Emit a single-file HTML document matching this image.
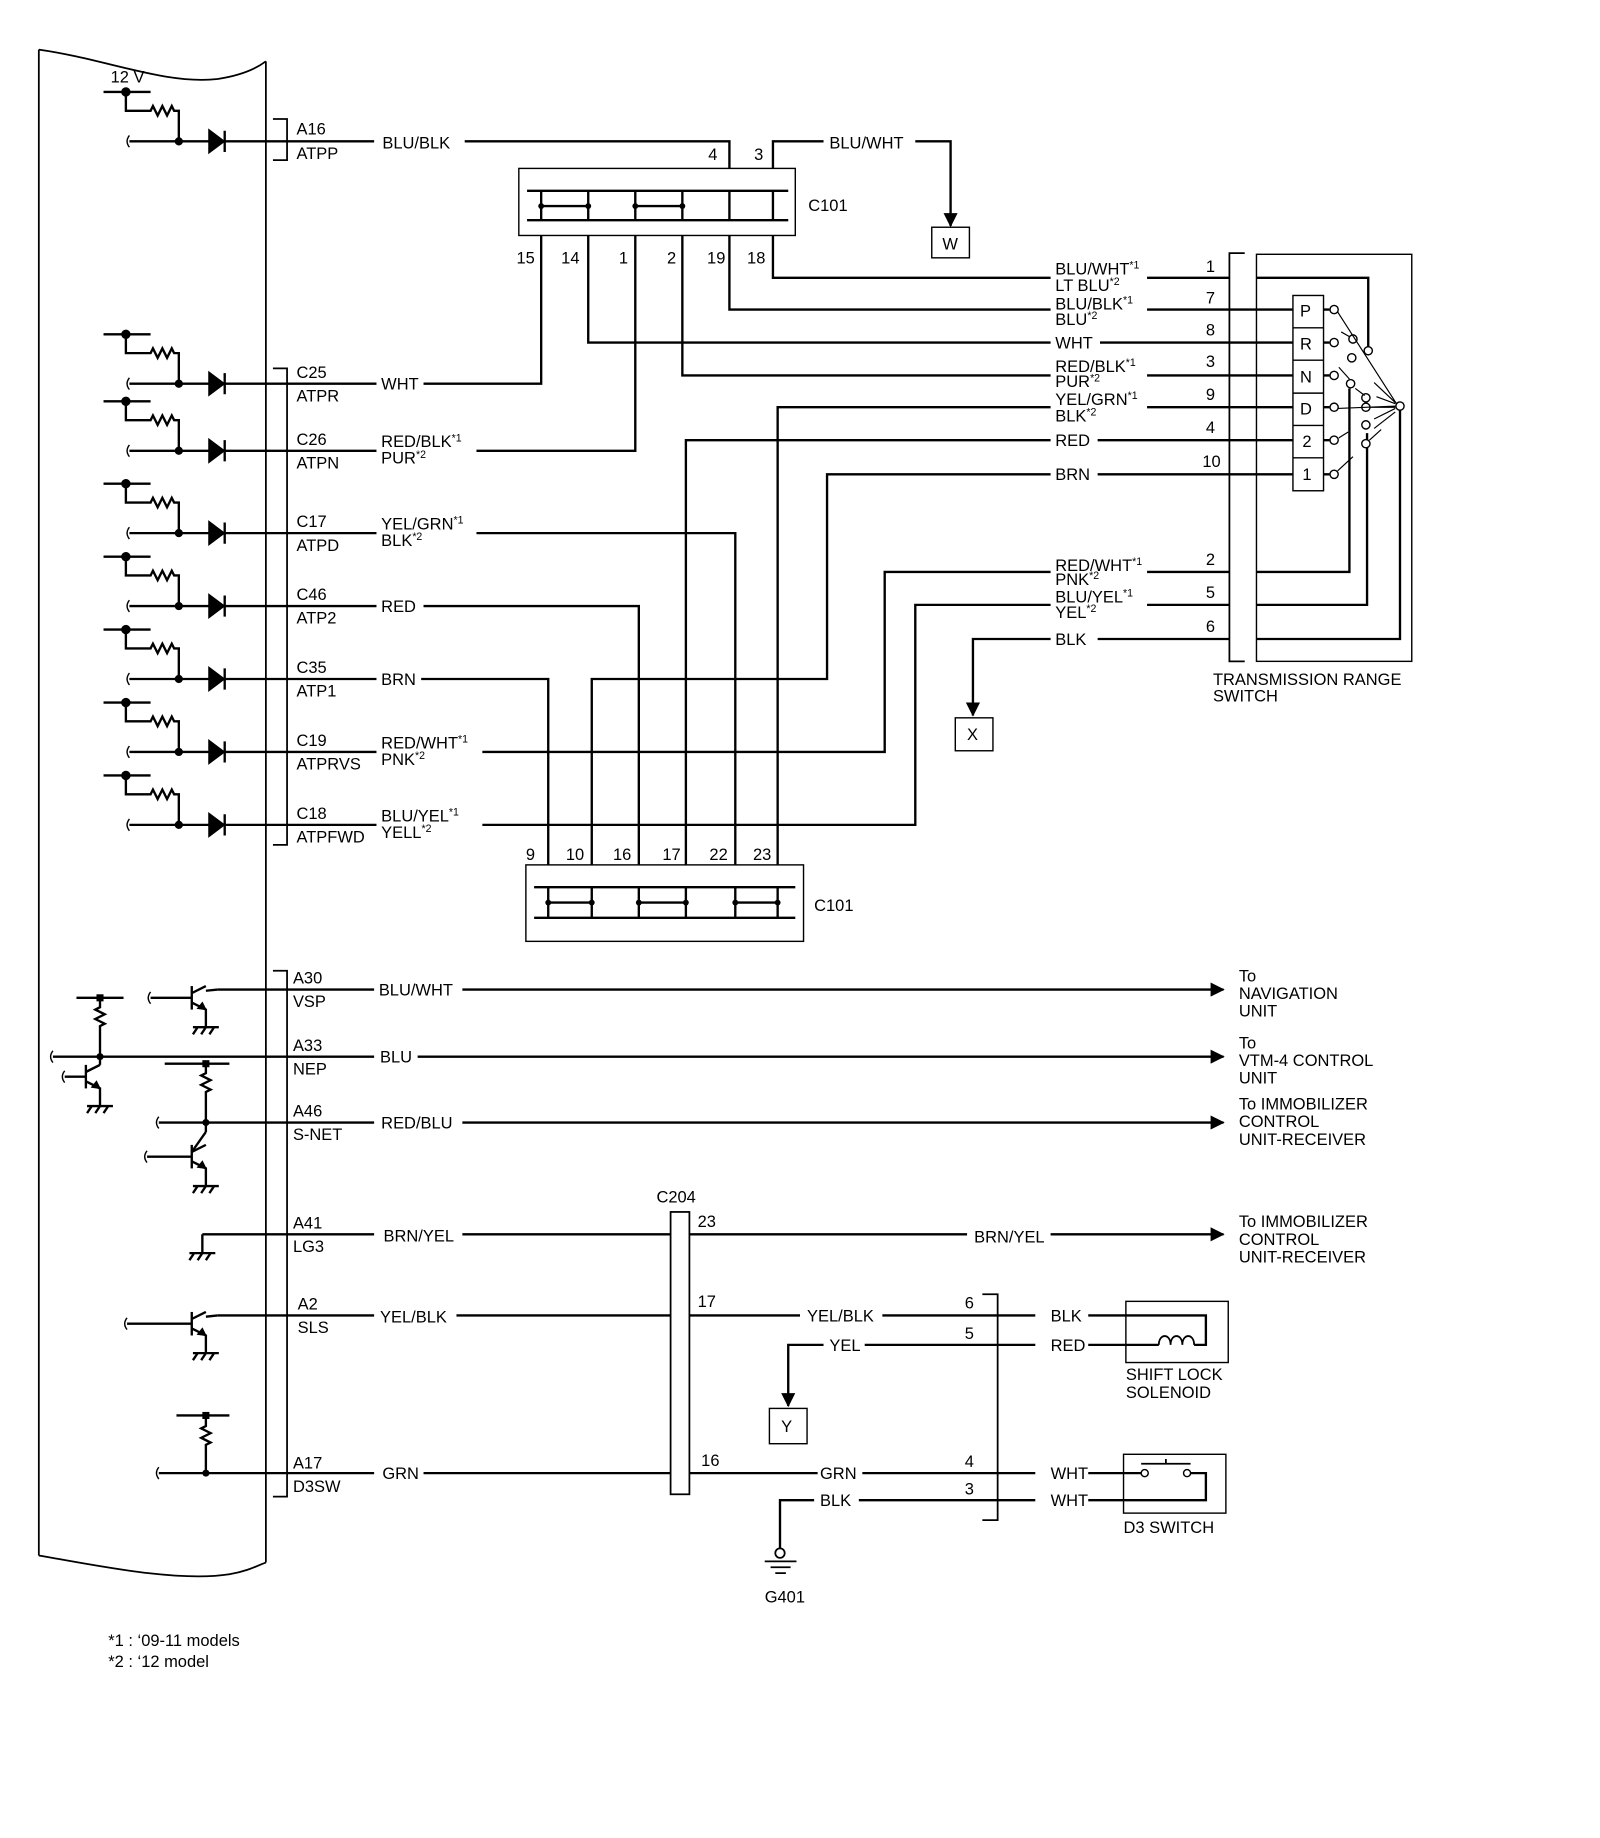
<!DOCTYPE html>
<html><head><meta charset="utf-8"><style>
html,body{margin:0;padding:0;background:#fff}
svg{display:block}
text{font-family:"Liberation Sans",Arial,sans-serif;font-size:14px;fill:#000}
.s{font-size:9px}
</style></head><body>
<svg width="1600" height="1838" viewBox="0 0 1360 1562" xmlns="http://www.w3.org/2000/svg">
<defs>
<g id="drv" fill="none" stroke="#000" stroke-width="2">
<path d="M88,-42 H128"/><path d="M107,-42 V-26 H128 l2,-4 l4,8 l4,-8 l4,8 l4,-8 l2,4 H152 V0"/>
<path d="M110,0 H178"/><path d="M110,-5 q-4,5 0,10" stroke-width="1.2"/>
<polygon points="178,-9 178,9 190,0" fill="#000"/><path d="M191,-9 V9 M191,0 H226"/>
<circle cx="152" cy="0" r="2.5" fill="#000"/><circle cx="107" cy="-42" r="3" fill="#000"/>
</g>
<g id="gnd" fill="none" stroke="#000" stroke-width="2"><path d="M-11,0 H11 M-7,0 l-4,6 M0,0 l-4,6 M7,0 l-4,6"/></g>
<g id="npn" fill="none" stroke="#000" stroke-width="2">
<path d="M0,-10 V10"/><path d="M0,-4 L12,-10"/><path d="M0,4 L12,10 V25"/>
<polygon points="12,10 5,9 9,4" fill="#000" stroke-width="1"/>
</g>
<marker id="ar" markerWidth="8" markerHeight="8" refX="7" refY="4" orient="auto" markerUnits="userSpaceOnUse"><path d="M0,0 L8,4 L0,8z" fill="#000"/></marker>
<marker id="ab" markerWidth="12" markerHeight="12" refX="11" refY="6" orient="auto" markerUnits="userSpaceOnUse"><path d="M0,0 L12,6 L0,12z" fill="#000"/></marker>
</defs>

<!-- ECM outline -->
<g fill="none" stroke="#000" stroke-width="1.5">
<path d="M33,42 C90,50 140,72 185,67 C205,64 218,58 226,52"/>
<path d="M33,42 V1322"/><path d="M226,52 V1328"/>
<path d="M33,1322 C80,1330 150,1345 195,1338 C212,1335 220,1330 226,1328"/>
</g>
<text x="94" y="70">12 V</text>

<!-- driver circuits -->
<use href="#drv" y="120"/>
<use href="#drv" y="326"/><use href="#drv" y="383"/><use href="#drv" y="453"/>
<use href="#drv" y="515"/><use href="#drv" y="577"/><use href="#drv" y="639"/><use href="#drv" y="701"/>

<g fill="none" stroke="#000" stroke-width="2">
<!-- brackets -->
<path d="M232,101 H244 V136 H232" stroke-width="1.5"/>
<path d="M232,313 H244 V718 H232" stroke-width="1.5"/>
<path d="M232,825 H244 V1272 H232" stroke-width="1.5"/>
<!-- top wires -->
<path d="M226,120 H318 M395,120 H620 V143"/>
<path d="M657,143 V120 H700 M778,120 H808 V192" marker-end="url(#ab)"/>
<path d="M226,326 H320 M360,326 H460 V200"/>
<path d="M500,200 V291 H893 M935,291 H1045"/>
<path d="M226,383 H320 M405,383 H540 V200"/>
<path d="M580,200 V319 H893 M975,319 H1045"/>
<path d="M620,200 V263 H893 M975,263 H1045"/>
<path d="M657,200 V236 H893 M975,236 H1045"/>
<path d="M226,453 H320 M405,453 H625 V735"/>
<path d="M661,735 V346 H893 M975,346 H1045"/>
<path d="M226,515 H320 M360,515 H543 V735"/>
<path d="M583,735 V374 H893 M933,374 H1045"/>
<path d="M226,577 H320 M358,577 H466 V735"/>
<path d="M503,735 V577 H703 V403 H893 M933,403 H1045"/>
<path d="M226,639 H320 M410,639 H752 V486 H893 M975,486 H1045"/>
<path d="M226,701 H320 M410,701 H778 V514 H893 M975,514 H1045"/>
<path d="M1045,543 H933 M893,543 H827 V608" marker-end="url(#ab)"/>
</g>
<!-- C101 top -->
<g fill="none" stroke="#000">
<rect x="441" y="143" width="235" height="57" stroke-width="1.2"/>
<path d="M448,162 H670 M448,187 H670" stroke-width="2"/>
<path d="M460,162 V187 M500,162 V187 M540,162 V187 M580,162 V187 M620,162 V187 M657,162 V187 M460,175 H500 M540,175 H580" stroke-width="2"/>
<rect x="447" y="735" width="236" height="65" stroke-width="1.2"/>
<path d="M454,754 H676 M454,780 H676" stroke-width="2"/>
<path d="M466,754 V780 M503,754 V780 M543,754 V780 M583,754 V780 M625,754 V780 M661,754 V780 M466,767 H503 M543,767 H583 M625,767 H661" stroke-width="2"/>
</g>
<g fill="#000">
<circle cx="460" cy="175" r="2.5"/><circle cx="500" cy="175" r="2.5"/><circle cx="540" cy="175" r="2.5"/><circle cx="580" cy="175" r="2.5"/>
<circle cx="466" cy="767" r="2.5"/><circle cx="503" cy="767" r="2.5"/><circle cx="543" cy="767" r="2.5"/><circle cx="583" cy="767" r="2.5"/><circle cx="625" cy="767" r="2.5"/><circle cx="661" cy="767" r="2.5"/>
</g>
<text x="687" y="179">C101</text><text x="692" y="774">C101</text>
<text x="602" y="136">4</text><text x="641" y="136">3</text>
<text x="439" y="224">15</text><text x="477" y="224">14</text><text x="526" y="224">1</text><text x="567" y="224">2</text><text x="601" y="224">19</text><text x="635" y="224">18</text>
<text x="447" y="731">9</text><text x="481" y="731">10</text><text x="521" y="731">16</text><text x="563" y="731">17</text><text x="603" y="731">22</text><text x="640" y="731">23</text>

<!-- W X boxes -->
<rect x="792" y="193" width="32" height="26" fill="none" stroke="#000" stroke-width="1.2"/><text x="801" y="212">W</text>
<rect x="812" y="610" width="32" height="28" fill="none" stroke="#000" stroke-width="1.2"/><text x="822" y="629">X</text>
<text x="705" y="126">BLU/WHT</text>

<!-- left pin labels -->
<text x="252" y="114">A16</text><text x="252" y="135">ATPP</text>
<text x="325" y="126">BLU/BLK</text>
<text x="252" y="321">C25</text><text x="252" y="341">ATPR</text><text x="324" y="331">WHT</text>
<text x="252" y="378">C26</text><text x="252" y="398">ATPN</text><text x="324" y="380">RED/BLK<tspan class="s" dy="-5">*1</tspan></text><text x="324" y="394">PUR<tspan class="s" dy="-5">*2</tspan></text>
<text x="252" y="448">C17</text><text x="252" y="468">ATPD</text><text x="324" y="450">YEL/GRN<tspan class="s" dy="-5">*1</tspan></text><text x="324" y="464">BLK<tspan class="s" dy="-5">*2</tspan></text>
<text x="252" y="510">C46</text><text x="252" y="530">ATP2</text><text x="324" y="520">RED</text>
<text x="252" y="572">C35</text><text x="252" y="592">ATP1</text><text x="324" y="582">BRN</text>
<text x="252" y="634">C19</text><text x="252" y="654">ATPRVS</text><text x="324" y="636">RED/WHT<tspan class="s" dy="-5">*1</tspan></text><text x="324" y="650">PNK<tspan class="s" dy="-5">*2</tspan></text>
<text x="252" y="696">C18</text><text x="252" y="716">ATPFWD</text><text x="324" y="698">BLU/YEL<tspan class="s" dy="-5">*1</tspan></text><text x="324" y="712">YELL<tspan class="s" dy="-5">*2</tspan></text>

<!-- right wire labels -->
<text x="897" y="233">BLU/WHT<tspan class="s" dy="-5">*1</tspan></text><text x="897" y="247">LT BLU<tspan class="s" dy="-5">*2</tspan></text>
<text x="897" y="263">BLU/BLK<tspan class="s" dy="-5">*1</tspan></text><text x="897" y="276">BLU<tspan class="s" dy="-5">*2</tspan></text>
<text x="897" y="296">WHT</text>
<text x="897" y="316">RED/BLK<tspan class="s" dy="-5">*1</tspan></text><text x="897" y="329">PUR<tspan class="s" dy="-5">*2</tspan></text>
<text x="897" y="344">YEL/GRN<tspan class="s" dy="-5">*1</tspan></text><text x="897" y="358">BLK<tspan class="s" dy="-5">*2</tspan></text>
<text x="897" y="379">RED</text><text x="897" y="408">BRN</text>
<text x="897" y="485">RED/WHT<tspan class="s" dy="-5">*1</tspan></text><text x="897" y="497">PNK<tspan class="s" dy="-5">*2</tspan></text>
<text x="897" y="512">BLU/YEL<tspan class="s" dy="-5">*1</tspan></text><text x="897" y="525">YEL<tspan class="s" dy="-5">*2</tspan></text>
<text x="897" y="548">BLK</text>
<text x="1025" y="231">1</text><text x="1025" y="258">7</text><text x="1025" y="285">8</text><text x="1025" y="312">3</text><text x="1025" y="340">9</text><text x="1025" y="368">4</text><text x="1022" y="397">10</text><text x="1025" y="480">2</text><text x="1025" y="508">5</text><text x="1025" y="537">6</text>

<!-- transmission range switch -->
<g fill="none" stroke="#000">
<path d="M1058,215 H1045 V562 H1058" stroke-width="1.5"/>
<rect x="1068" y="216" width="132" height="346" stroke-width="1.2"/>
<rect x="1099" y="251" width="26" height="166" stroke-width="1.2"/>
<path d="M1099,278.5 H1125 M1099,306 H1125 M1099,334 H1125 M1099,361.5 H1125 M1099,389 H1125" stroke-width="1.2"/>
<path d="M1045,263 H1099 M1045,291 H1099 M1045,319 H1099 M1045,346 H1099 M1045,374 H1099 M1045,403 H1099" stroke-width="2"/>
<path d="M1068,236 H1163 V296" stroke-width="2"/>
<path d="M1068,486 H1147 V330" stroke-width="2"/>
<path d="M1068,514 H1162 V368" stroke-width="2"/>
<path d="M1068,543 H1190 V345" stroke-width="2"/>
<path d="M1125,263 H1130 M1125,291 H1130 M1125,319 H1130 M1125,346 H1130 M1125,374 H1130 M1125,403 H1130" stroke-width="2"/>
<g stroke-width="1.2" fill="#fff">
<circle cx="1134" cy="263" r="3.5"/><circle cx="1134" cy="291" r="3.5"/><circle cx="1134" cy="319" r="3.5"/><circle cx="1134" cy="346" r="3.5"/><circle cx="1134" cy="374" r="3.5"/><circle cx="1134" cy="403" r="3.5"/>
<circle cx="1150" cy="288" r="3.5"/><circle cx="1149" cy="304" r="3.5"/><circle cx="1148" cy="326" r="3.5"/><circle cx="1163" cy="298" r="3.5"/><circle cx="1161" cy="338" r="3.5"/><circle cx="1161" cy="346" r="3.5"/><circle cx="1161" cy="361" r="3.5"/><circle cx="1161" cy="377" r="3.5"/><circle cx="1190" cy="345" r="3.5"/>
</g>
<path d="M1137,265 L1187,343 M1137,347 L1187,345 M1165,346 H1186 M1138,372 L1146,367 M1137,400 L1150,388 M1140,282 L1147,286 M1138,312 L1147,322 M1152,330 L1160,336 M1168,325 L1186,342 M1170,337 L1186,343 M1168,356 L1186,347 M1168,364 L1186,350 M1164,374 L1174,365" stroke-width="1"/>
</g>
<text x="1105" y="269">P</text><text x="1105" y="297">R</text><text x="1105" y="325">N</text><text x="1105" y="352">D</text><text x="1107" y="380">2</text><text x="1107" y="408">1</text>
<text x="1031" y="582">TRANSMISSION RANGE</text><text x="1031" y="596">SWITCH</text>

<!-- bottom section -->
<g fill="none" stroke="#000" stroke-width="2">
<path d="M185,841 H318 M393,841 H1040" marker-end="url(#ab)"/>
<path d="M45,898 H318 M355,898 H1040" marker-end="url(#ab)"/>
<path d="M135,954 H318 M393,954 H1040" marker-end="url(#ab)"/>
<path d="M172,1049 H318 M393,1049 H570 M586,1049 H822 M893,1049 H1040" marker-end="url(#ab)"/>
<path d="M185,1118 H318 M388,1118 H570"/>
<path d="M135,1252 H318 M360,1252 H570"/>
<!-- VSP transistor -->
<path d="M128,848 H163"/><path d="M128,843 q-4,5 0,10" stroke-width="1.2"/>
<path d="M175,842 L185,841"/>
<!-- NEP -->
<path d="M65,848 H105 M85,848 V856 l-4,2 l8,4 l-8,4 l8,4 l-4,2 V898 V905"/><path d="M45,893 q-4,5 0,10" stroke-width="1.2"/>
<path d="M55,915 H73"/><path d="M55,910 q-4,5 0,10" stroke-width="1.2"/>
<!-- SNET -->
<path d="M140,904 H195 M175,904 V912 l-4,2 l8,4 l-8,4 l8,4 l-4,2 V954 V962"/><path d="M135,949 q-4,5 0,10" stroke-width="1.2"/>
<path d="M125,983 H163"/><path d="M125,978 q-4,5 0,10" stroke-width="1.2"/>
<!-- LG3 -->
<path d="M172,1049 V1065"/>
<!-- SLS -->
<path d="M108,1125 H163"/><path d="M108,1120 q-4,5 0,10" stroke-width="1.2"/><path d="M175,1119 L185,1118"/>
<!-- D3SW -->
<path d="M150,1203 H195 M175,1203 V1212 l-4,2 l8,4 l-8,4 l8,4 l-4,2 V1252"/><path d="M135,1247 q-4,5 0,10" stroke-width="1.2"/>
</g>
<use href="#npn" x="163" y="848"/><use href="#gnd" x="175" y="873"/>
<use href="#npn" x="73" y="915"/><use href="#gnd" x="85" y="940"/>
<path d="M73,911 L85,905" stroke="#000" stroke-width="2"/>
<use href="#npn" x="163" y="983"/><use href="#gnd" x="175" y="1008"/>
<path d="M163,979 L175,962" stroke="#000" stroke-width="2"/>
<use href="#gnd" x="172" y="1065"/>
<use href="#npn" x="163" y="1125"/><use href="#gnd" x="175" y="1150"/>
<g fill="#000"><circle cx="85" cy="898" r="3"/><circle cx="175" cy="954" r="3"/><circle cx="175" cy="1252" r="3"/>
<rect x="82" y="845" width="6" height="6"/><rect x="172" y="901" width="6" height="6"/><rect x="172" y="1200" width="6" height="6"/></g>

<text x="249" y="836">A30</text><text x="249" y="856">VSP</text><text x="322" y="846">BLU/WHT</text>
<text x="249" y="893">A33</text><text x="249" y="913">NEP</text><text x="323" y="903">BLU</text>
<text x="249" y="949">A46</text><text x="249" y="969">S-NET</text><text x="324" y="959">RED/BLU</text>
<text x="249" y="1044">A41</text><text x="249" y="1064">LG3</text><text x="326" y="1055">BRN/YEL</text>
<text x="253" y="1113">A2</text><text x="253" y="1133">SLS</text><text x="323" y="1124">YEL/BLK</text>
<text x="249" y="1248">A17</text><text x="249" y="1268">D3SW</text><text x="325" y="1257">GRN</text>
<text x="1053" y="834">To</text><text x="1053" y="849">NAVIGATION</text><text x="1053" y="864">UNIT</text>
<text x="1053" y="891">To</text><text x="1053" y="906">VTM-4 CONTROL</text><text x="1053" y="921">UNIT</text>
<text x="1053" y="943">To IMMOBILIZER</text><text x="1053" y="958">CONTROL</text><text x="1053" y="973">UNIT-RECEIVER</text>
<text x="1053" y="1043">To IMMOBILIZER</text><text x="1053" y="1058">CONTROL</text><text x="1053" y="1073">UNIT-RECEIVER</text>

<!-- C204 -->
<rect x="570" y="1030" width="16" height="240" fill="none" stroke="#000" stroke-width="1.5"/>
<text x="558" y="1022">C204</text>
<text x="593" y="1043">23</text><text x="593" y="1111">17</text><text x="596" y="1246">16</text>
<text x="828" y="1056">BRN/YEL</text>
<g fill="none" stroke="#000" stroke-width="2">
<path d="M586,1118 H680 M750,1118 H848"/>
<path d="M848,1143 H735 M700,1143 H670 V1195" marker-end="url(#ab)"/>
<path d="M586,1252 H695 M733,1252 H848"/>
<path d="M848,1275 H730 M692,1275 H663 V1316"/>
<path d="M835,1100 H848 V1292 H835" stroke-width="1.5"/>
<path d="M848,1118 H880 M925,1118 H957 M848,1143 H880 M925,1143 H957"/>
<path d="M848,1252 H880 M925,1252 H955 M848,1275 H880 M925,1275 H955"/>
</g>
<text x="686" y="1123">YEL/BLK</text><text x="705" y="1148">YEL</text><text x="697" y="1257">GRN</text><text x="697" y="1280">BLK</text>
<text x="820" y="1112">6</text><text x="820" y="1138">5</text><text x="820" y="1247">4</text><text x="820" y="1270">3</text>
<text x="893" y="1123">BLK</text><text x="893" y="1148">RED</text><text x="893" y="1257">WHT</text><text x="893" y="1280">WHT</text>
<rect x="654" y="1197" width="32" height="30" fill="none" stroke="#000" stroke-width="1.2"/><text x="664" y="1217">Y</text>
<!-- ground -->
<g fill="none" stroke="#000" stroke-width="1.5"><circle cx="663" cy="1320" r="4"/><path d="M650,1327 H677 M655,1332 H672 M659,1337 H668"/></g>
<text x="650" y="1362">G401</text>
<!-- solenoid -->
<g fill="none" stroke="#000">
<rect x="957" y="1106" width="87" height="52" stroke-width="1.2"/>
<path d="M957,1118 H1025 V1143 H1015 M985,1143 H957" stroke-width="2"/>
<path d="M985,1143 c0,-10 10,-10 10,0 c0,-10 10,-10 10,0 c0,-10 10,-10 10,0" stroke-width="1.5"/>
<rect x="955" y="1236" width="87" height="50" stroke-width="1.2"/>
<path d="M955,1252 H970 M1012,1252 H1025 V1275 H955" stroke-width="2"/>
<circle cx="973" cy="1252" r="3" stroke-width="1.2"/><circle cx="1009" cy="1252" r="3" stroke-width="1.2"/>
<path d="M970,1244 H1012 M991,1244 V1240" stroke-width="1.5"/>
</g>
<text x="957" y="1173">SHIFT LOCK</text><text x="957" y="1188">SOLENOID</text>
<text x="955" y="1303">D3 SWITCH</text>

<text x="92" y="1399">*1 : ‘09-11 models</text>
<text x="92" y="1417">*2 : ‘12 model</text>
</svg>
</body></html>
